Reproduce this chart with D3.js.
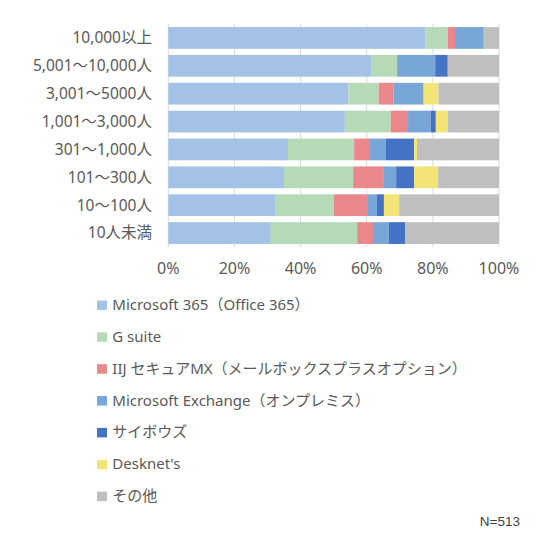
<!DOCTYPE html>
<html>
<head>
<meta charset="utf-8">
<script src="https://cdn.jsdelivr.net/npm/d3@7"></script>
<style>
html,body{margin:0;padding:0;background:#fff;}
svg{display:block;font-family:"Noto Sans","Noto Sans CJK JP",sans-serif;}
</style>
</head>
<body>
<svg id="chart" width="550" height="550"></svg>
<script>
const categories = ["10,000以上","5,001～10,000人","3,001～5000人","1,001～3,000人","301～1,000人","101～300人","10～100人","10人未満"];
const seriesNames = ["Microsoft 365（Office 365）","G suite","IIJ セキュアMX（メールボックスプラスオプション）","Microsoft Exchange（オンプレミス）","サイボウズ","Desknet's","その他"];
const seriesColors = ["#A4C2E6","#B6D9B7","#EA878B","#78A6D7","#4472C4","#F2E477","#BFBFBF"];
const microsoft365 = [77.8,61.5,54.5,53.4,36.2,35.0,32.3,31.0];
const gsuite       = [6.7,7.7,9.1,13.9,20.0,20.9,17.8,26.1];
const iij          = [2.2,0,4.5,5.2,4.8,9.3,10.3,4.8];
const exchange     = [8.7,11.5,9.1,6.9,4.8,3.7,2.7,4.8];
const cybozu       = [0,3.8,0,1.5,8.5,5.4,2.1,4.9];
const desknets     = [0,0,4.5,3.7,0.9,7.3,4.6,0];
const other        = [4.6,15.5,18.3,15.4,24.8,18.4,30.2,28.4];
const tickLabels = ["0%","20%","40%","60%","80%","100%"];
const note = "N=513";

const seriesValues = [microsoft365,gsuite,iij,exchange,cybozu,desknets,other];
const rows = categories.map((c,i)=>{
  const o = {cat:c};
  seriesNames.forEach((s,j)=>{ o[s] = seriesValues[j][i]; });
  return o;
});
const stacked = d3.stack().keys(seriesNames).offset(d3.stackOffsetExpand)(rows);

const svg = d3.select("#chart");
const x = d3.scaleLinear().domain([0,1]).range([168.3,499]);
const y = d3.scaleBand().domain(categories).range([24,247]).paddingInner(0.22).paddingOuter(0.11);

// gridlines
svg.append("g").selectAll("line").data(d3.range(0,1.0001,0.2)).join("line")
  .attr("x1",d=>x(d)).attr("x2",d=>x(d))
  .attr("y1",24).attr("y2",247)
  .attr("stroke","#D9D9D9").attr("stroke-width",1);

// bars
svg.append("g").selectAll("g").data(stacked).join("g")
  .attr("fill",(d,i)=>seriesColors[i])
  .selectAll("rect").data(d=>d).join("rect")
  .attr("x",d=>x(d[0]))
  .attr("width",d=>Math.max(0,x(d[1])-x(d[0])))
  .attr("y",d=>y(d.data.cat))
  .attr("height",y.bandwidth());

// category axis labels
svg.append("g").selectAll("text").data(categories).join("text")
  .attr("x",152).attr("y",d=>y(d)+y.bandwidth()/2)
  .attr("dy","0.35em")
  .attr("text-anchor","end")
  .attr("font-size","15.5px")
  .attr("fill","#595959")
  .text(d=>d);

// x tick labels
svg.append("g").selectAll("text").data(tickLabels).join("text")
  .attr("x",(d,i)=>x(i*0.2)).attr("y",274)
  .attr("text-anchor","middle")
  .attr("font-size","16px")
  .attr("fill","#595959")
  .text(d=>d);

// legend
const leg = svg.append("g").selectAll("g").data(seriesNames).join("g")
  .attr("transform",(d,i)=>`translate(0,${310+31.85*i})`);
leg.append("rect").attr("x",97).attr("y",-9.5).attr("width",10).attr("height",9.5)
  .attr("fill",(d,i)=>seriesColors[i]);
leg.append("text").attr("x",112.3).attr("y",0)
  .attr("font-size","15px").attr("fill","#595959")
  .text(d=>d);

// note
svg.append("text").attr("x",520).attr("y",525.5)
  .attr("text-anchor","end")
  .attr("font-family","'Liberation Sans',Arial,sans-serif")
  .attr("font-size","13.5px").attr("fill","#404040")
  .text(note);
</script>
</body>
</html>
